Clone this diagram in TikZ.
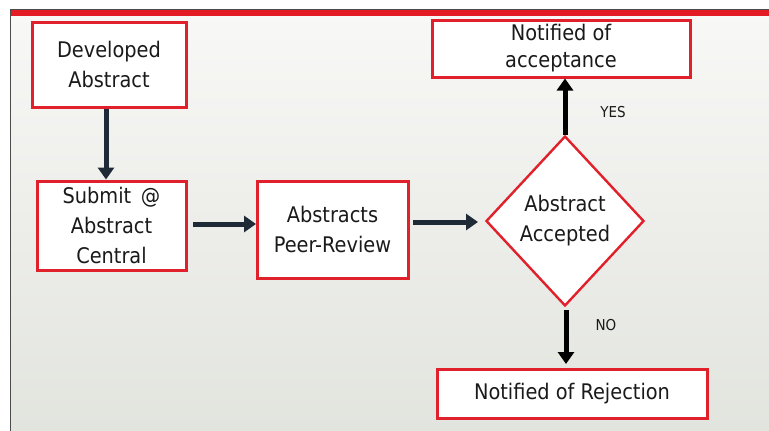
\documentclass[tikz,border=0pt]{standalone}
\usepackage{fontspec}
\setmainfont{DejaVu Sans Condensed}
\usetikzlibrary{shapes.geometric,arrows.meta}
\definecolor{boxred}{HTML}{E0202A}
\definecolor{barred}{HTML}{E21B24}
\definecolor{navy}{HTML}{1E2B36}
\definecolor{txt}{HTML}{1A1A1A}
\definecolor{bgtop}{HTML}{F8F8F6}
\definecolor{bgbot}{HTML}{E2E4DE}
\begin{document}
\begin{tikzpicture}[x=1pt,y=-1pt,
  stepbox/.style={draw=boxred,line width=3pt,fill=white,inner sep=0pt,align=center,font=\fontsize{21.5}{30}\selectfont,text=txt},
  decide/.style={diamond,draw=boxred,line width=2.4pt,fill=white,inner sep=0pt,align=center,font=\fontsize{21.5}{30}\selectfont,text=txt},
  flow/.style={line width=5pt,-{Triangle[length=12pt,width=16pt]}},
  lbl/.style={font=\fontsize{15}{17}\selectfont,text=txt}]
\useasboundingbox (0,0) rectangle (769,431);
\fill[white] (0,0) rectangle (769,431);
\shade[top color=bgtop, bottom color=bgbot] (10,12) rectangle (769,431);
\fill[barred] (10,9) rectangle (769,16);
\draw[black!70,line width=0.8pt] (10,9.5) -- (769,9.5);
\draw[black!70,line width=1.5pt] (10.5,9) -- (10.5,431);
\node[stepbox,minimum width=154pt,minimum height=85pt] (dev) at (109,64.5) {Developed\\Abstract};
\node[stepbox,minimum width=149pt,minimum height=89pt] (sub) at (111.5,225.5) {Submit \,@\\Abstract\\Central};
\node[stepbox,minimum width=151pt,minimum height=97pt] (peer) at (332.5,229.5) {Abstracts\\Peer-Review};
\node[decide,minimum width=158pt,minimum height=170pt] (dec) at (565,221) {Abstract\\Accepted};
\node[stepbox,minimum width=258pt,minimum height=57pt,font=\fontsize{21.5}{27}\selectfont] (acc) at (561,48.5) {Notified of\\acceptance};
\node[stepbox,minimum width=270pt,minimum height=49pt] (rej) at (572,393.5) {Notified of Rejection};
\coordinate (a1) at (193,224);
\coordinate (a2) at (256,224);
\coordinate (b1) at (413,222);
\coordinate (b2) at (478,222);
\coordinate (c1) at (566,310);
\coordinate (c2) at (566,364);
\draw[flow,navy] (dev.south -| 106,0) -- (sub.north -| 106,0);
\draw[flow,navy] (a1) -- (a2);
\draw[flow,navy] (b1) -- (b2);
\draw[flow,black] (dec.north) -- (dec.north |- acc.south);
\draw[flow,black] (c1) -- (c2);
\node[lbl] (yes) at (613,112) {YES};
\node[lbl] (no) at (606,325) {NO};
\end{tikzpicture}
\end{document}
